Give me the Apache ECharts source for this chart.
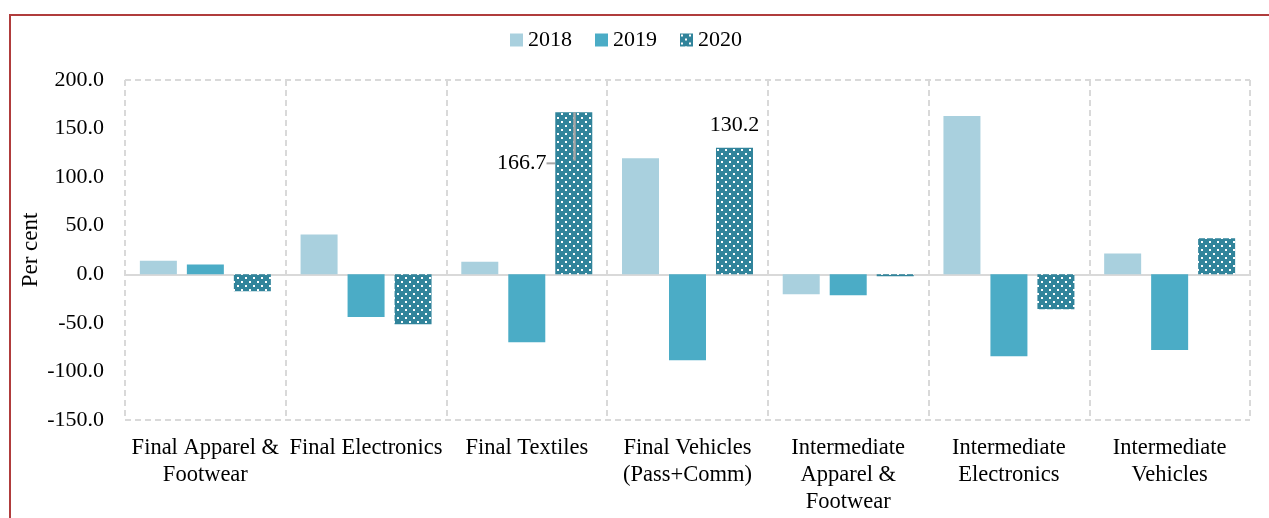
<!DOCTYPE html>
<html>
<head>
<meta charset="utf-8">
<script src="https://cdn.jsdelivr.net/npm/echarts@6/dist/echarts.min.js"></script>
<style>
  html, body { margin: 0; padding: 0; background: #fff; }
  #frame { position: absolute; left: 9px; top: 14px; width: 1400px; height: 700px;
           border-left: 2px solid #b03c3c; border-top: 2px solid #b03c3c; }
  #chart { position: absolute; left: 0; top: 0; width: 1269px; height: 518px; }
</style>
</head>
<body>
<div id="frame"></div>
<div id="chart"></div>
<script>
var categories = ["Final Apparel &\nFootwear", "Final Electronics", "Final Textiles",
    "Final Vehicles\n(Pass+Comm)", "Intermediate\nApparel &\nFootwear",
    "Intermediate\nElectronics", "Intermediate\nVehicles"];
var years = ["2018", "2019", "2020"];
var v2018 = [14, 41, 13, 119.5, -20.5, 163, 21.5];
var v2019 = [10, -44, -70, -88.5, -21.5, -84.5, -78];
var v2020 = [-17.5, -51.5, 166.7, 130.2, -2, -36, 37];
var yTicks = { min: -150, max: 200, step: 50 };
var leaderEnd = 117; // where the 166.7 leader line bends

window.onload = function() {
    var font = "'Liberation Serif', 'DejaVu Serif', serif";

    // dotted fill for 2020
    var c = document.createElement("canvas");
    c.width = 8; c.height = 8;
    var x = c.getContext("2d");
    x.fillStyle = "#31849b";
    x.fillRect(0, 0, 8, 8);
    x.fillStyle = "#ffffff";
    x.fillRect(1, 1, 2, 2);
    x.fillRect(5, 5, 2, 2);
    var dots = { image: c, repeat: "repeat" };

    var grey = { color: "#a6a6a6", width: 2 };
    var d2020 = v2020.map(function(v, i) {
        if (i == 2) return { value: v, label: { show: true, position: "top", distance: 0 },
                             labelLine: { show: true, lineStyle: grey } };
        if (i == 3) return { value: v, label: { show: true, position: "top", distance: 12 } };
        return v;
    });

    var chart = echarts.init(document.getElementById("chart"));
    chart.setOption({
        animation: false,
        textStyle: { fontFamily: font },
        legend: {
            top: 24, left: 505, itemWidth: 13, itemHeight: 13, itemGap: 23,
            icon: "rect",
            textStyle: { fontFamily: font, fontSize: 22, color: "#000" },
            data: years
        },
        grid: { left: 125, right: 19, top: 80, bottom: 98 },
        xAxis: {
            type: "category", data: categories,
            axisLine: { onZero: true, lineStyle: { color: "#d9d9d9", width: 2 } },
            axisTick: { show: false },
            axisLabel: { interval: 0, margin: 15, fontFamily: font, fontSize: 22.5, color: "#000", lineHeight: 27,
                         verticalAlign: "top" },
            splitLine: { show: true, lineStyle: { color: "#d9d9d9", width: 2, type: [6, 4] } }
        },
        yAxis: [{
            type: "value", min: yTicks.min, max: yTicks.max, interval: yTicks.step,
            name: "Per cent", nameLocation: "middle", nameGap: 83, nameMoveOverlap: false,
            nameTextStyle: { fontFamily: font, fontSize: 23, color: "#000" },
            axisLine: { show: false }, axisTick: { show: false },
            axisLabel: { margin: 21, fontFamily: font, fontSize: 22, color: "#000",
                         formatter: function(v) { return v.toFixed(1); } },
            splitLine: { show: false }
        }, {
            type: "value", min: yTicks.min, max: yTicks.max, interval: yTicks.max - yTicks.min,
            axisLine: { show: false }, axisTick: { show: false }, axisLabel: { show: false },
            splitLine: { show: true, lineStyle: { color: "#d9d9d9", width: 2, type: [6, 4] } }
        }],
        series: [
            { name: "2018", type: "bar", data: v2018, barWidth: 37, barGap: "27%",
              itemStyle: { color: "#a9d0de" } },
            { name: "2019", type: "bar", data: v2019, barWidth: 37, barGap: "27%",
              itemStyle: { color: "#4bacc6" } },
            { name: "2020", type: "bar", data: d2020, barWidth: 37, barGap: "27%",
              itemStyle: { color: dots },
              label: { fontFamily: font, fontSize: 22, color: "#000",
                       formatter: function(p) { return p.value.toFixed(1); } },
              labelLayout: function(p) {
                  if (p.dataIndex == 2) return { dx: -52, dy: 62 };
                  return {};
              },
              markLine: {
                  silent: true, symbol: "none", label: { show: false }, z: 10,
                  lineStyle: { color: "#a6a6a6", width: 2.5, type: "solid", opacity: 1 },
                  data: [[{ xAxis: 2, yAxis: v2020[2] }, { xAxis: 2, yAxis: leaderEnd }]]
              } }
        ]
    });
};
</script>
</body>
</html>
